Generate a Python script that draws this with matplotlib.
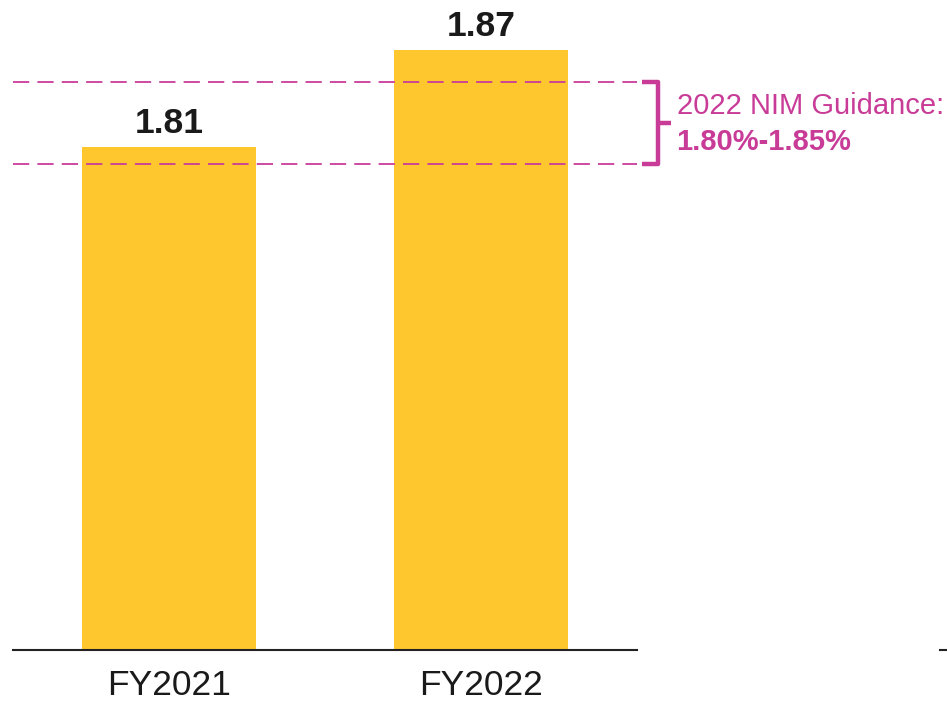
import matplotlib
matplotlib.use("Agg")
import matplotlib.pyplot as plt
from matplotlib.lines import Line2D

plt.rcParams["font.family"] = ["Liberation Sans", "DejaVu Sans"]

years = ["FY2021", "FY2022"]
nim = [1.81, 1.87]
guidance_low, guidance_high = 1.80, 1.85
guidance_title = "2022 NIM Guidance:"

BAR = "#FFC72E"
MAGENTA = "#C83C98"

fig = plt.figure(figsize=(9.47, 7.01), dpi=100)
W, H = 947, 701
# axes box in pixels: x 13..637, baseline at y=650
ax = fig.add_axes([13 / W, (H - 650) / H, 624 / W, 648.6 / H])
ax.set_xlim(-0.5, 1.5)
ax.set_ylim(1.50, 1.90)

xs = range(len(years))
ax.bar(xs, nim, width=0.557, color=BAR, zorder=2)
for x, v in zip(xs, nim):
    ax.annotate(f"{v:.2f}", (x, v), xytext=(0, 5), textcoords="offset points",
                ha="center", va="bottom", fontsize=25.5, fontweight="bold",
                color="#1a1a1a")

for g in (guidance_low, guidance_high):
    ax.axhline(g, color=MAGENTA, lw=1.3, dashes=(9, 4.5), zorder=3)

# bracket to the right of the guidance band
ymid = (guidance_low + guidance_high) / 2
ax.plot([1.517, 1.566, 1.566, 1.517], [guidance_high, guidance_high, guidance_low, guidance_low],
        color=MAGENTA, lw=3.2, clip_on=False, solid_joinstyle="round", solid_capstyle="butt")
ax.plot([1.566, 1.608], [ymid, ymid], color=MAGENTA, lw=3.2, clip_on=False,
        solid_capstyle="butt")
ax.text(1.627, 1.8355, guidance_title, color=MAGENTA, fontsize=21,
        ha="left", va="center", clip_on=False)
ax.text(1.627, 1.8135, f"{guidance_low:.2f}%-{guidance_high:.2f}%", color=MAGENTA,
        fontsize=21, fontweight="bold", ha="left", va="center", clip_on=False)

ax.set_xticks(list(xs))
ax.set_xticklabels(years, fontsize=25.5, color="#1a1a1a")
ax.tick_params(axis="x", length=0, pad=14)
ax.set_yticks([])
for side in ("left", "right", "top"):
    ax.spines[side].set_visible(False)
ax.spines["bottom"].set_color("#222222")
ax.spines["bottom"].set_linewidth(1.5)

# stub of the neighbouring panel's baseline
fig.add_artist(Line2D([940 / W, 1.0], [(H - 650) / H] * 2, color="#222222", lw=1.5))

fig.savefig("out.png", dpi=100)
